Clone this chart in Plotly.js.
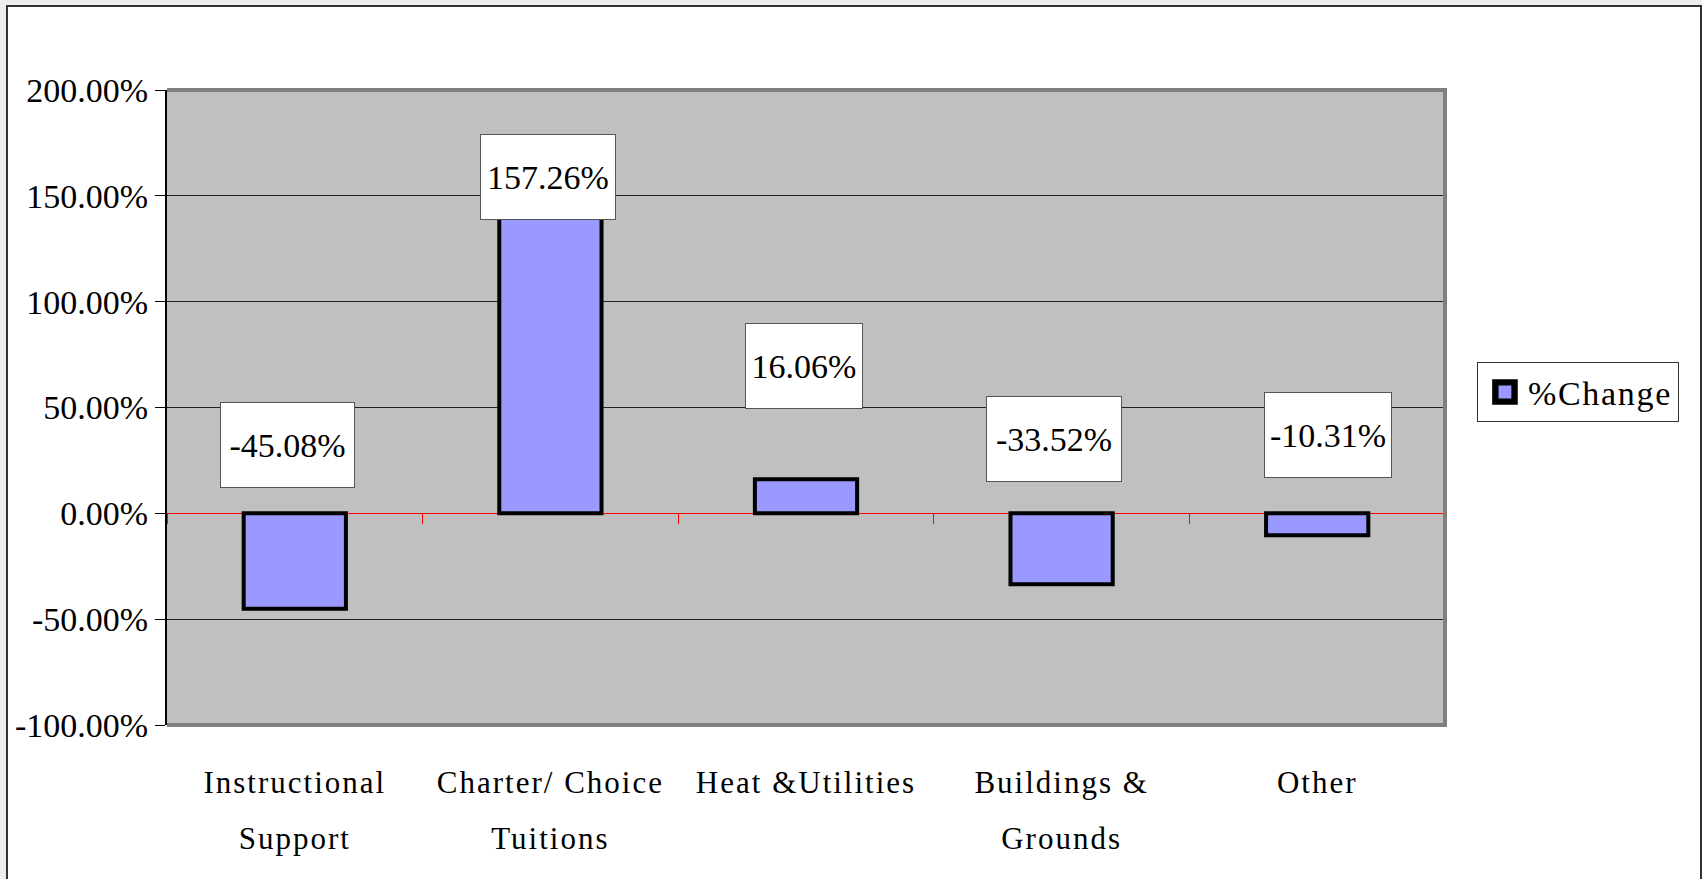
<!DOCTYPE html>
<html>
<head>
<meta charset="utf-8">
<script src="https://cdn.plot.ly/plotly-3.0.1.min.js"></script>
<style>
  body { margin: 0; background: #eeeeee; }
  #frame { position: absolute; left: 6px; top: 5px; width: 1692px; height: 880px;
           background: #ffffff; border: 2px solid #333333; }
  #myDiv { position: absolute; left: 0; top: 0; width: 1702px; height: 879px; }
  .xtick text, .x3tick text { letter-spacing: 2px; }
  .legendtext { letter-spacing: 1.7px; }
  .legendpoints path { transform-box: fill-box; transform-origin: center; scale: 1.6; translate: -13px 0; }
</style>
</head>
<body>
<div id="frame"></div>
<div id="myDiv"></div>
<script>
var graphDiv = document.getElementById('myDiv');

// data
var categories = ['Instructional Support', 'Charter/ Choice Tuitions', 'Heat &Utilities', 'Buildings & Grounds', 'Other'];
var catLine1 = ['Instructional', 'Charter/ Choice', 'Heat &Utilities', 'Buildings &', 'Other'];
var catLine2 = ['Support', 'Tuitions', '', 'Grounds', ''];
var pctChange = [-45.08, 157.26, 16.06, -33.52, -10.31];
var yTicks = [-100, -50, 0, 50, 100, 150, 200];

// where the (hand placed) label boxes sit, in axis units / pixels
var labelY = [32.3, 159.1, 69.8, 34.9, 37.0];
var labelShift = [-7, -2, -2, -8, 11];
var labelW = [131, 132, 114, 132, 124];

var fontFam = '"Liberation Serif", "Times New Roman", serif';
var yMin = -100, yMax = 200;

var annotations = pctChange.map(function (v, i) {
    return {
        x: categories[i], y: labelY[i], xref: 'x', yref: 'y',
        text: v.toFixed(2) + '%', showarrow: false,
        xshift: labelShift[i], width: labelW[i], height: 82,
        bgcolor: '#ffffff', bordercolor: '#555555', borderwidth: 1,
        font: { family: fontFam, size: 34, color: '#000' }
    };
});

var idx = categories.map(function (c, i) { return i; });
var bounds = [-0.5].concat(idx.map(function (i) { return i + 0.5; }));

// invisible helpers so the extra x axes get drawn
var ghost = { type: 'scatter', mode: 'markers', marker: { opacity: 0 },
              showlegend: false, hoverinfo: 'skip' };

Plotly.newPlot(graphDiv, [{
    type: 'bar',
    x: categories,
    y: pctChange,
    name: '%Change',
    width: 0.4,
    marker: { color: '#9999ff', line: { color: '#000000', width: 4 } },
    hoverinfo: 'x+y'
}, Object.assign({}, ghost, {
    x: idx, y: pctChange, xaxis: 'x3', yaxis: 'y'
}), Object.assign({}, ghost, {
    x: bounds, y: bounds.map(function () { return 0; }), xaxis: 'x2', yaxis: 'y'
})], {
    width: 1702,
    height: 879,
    margin: { l: 167, r: 257, t: 90, b: 154 },
    paper_bgcolor: 'rgba(0,0,0,0)',
    plot_bgcolor: '#c0c0c0',
    font: { family: fontFam, size: 34, color: '#000' },
    showlegend: true,
    legend: {
        x: 1.025, y: 0.571, xanchor: 'left', yanchor: 'top',
        itemwidth: 40,
        bgcolor: '#ffffff', bordercolor: '#333333', borderwidth: 1,
        font: { family: fontFam, size: 34, color: '#000' }
    },
    xaxis: {
        type: 'category',
        tickvals: categories,
        ticktext: catLine1,
        ticks: '',
        ticklabelstandoff: 36,
        showgrid: false,
        zeroline: false,
        showline: false,
        tickfont: { family: fontFam, size: 31 }
    },
    xaxis2: {
        overlaying: 'x',
        anchor: 'free',
        position: (0 - yMin) / (yMax - yMin),
        range: [-0.5, categories.length - 0.5],
        tickvals: bounds,
        ticks: 'outside',
        ticklen: 10,
        tickwidth: 1,
        tickcolor: '#ff0000',
        showticklabels: false,
        showgrid: false,
        zeroline: false,
        showline: false,
        fixedrange: true
    },
    xaxis3: {
        overlaying: 'x',
        anchor: 'y',
        side: 'bottom',
        range: [-0.5, categories.length - 0.5],
        tickvals: idx,
        ticktext: catLine2,
        ticks: '',
        ticklabelstandoff: 92,
        showgrid: false,
        zeroline: false,
        showline: false,
        tickfont: { family: fontFam, size: 31 }
    },
    yaxis: {
        range: [yMin, yMax],
        tickvals: yTicks,
        ticktext: yTicks.map(function (t) { return t.toFixed(2) + '%'; }),
        ticks: 'outside',
        ticklen: 10,
        tickcolor: '#000',
        showline: true,
        linecolor: '#000',
        linewidth: 2,
        showgrid: true,
        gridcolor: '#222222',
        gridwidth: 1,
        zeroline: true,
        zerolinecolor: '#ff0000',
        zerolinewidth: 1,
        tickfont: { family: fontFam, size: 34 }
    },
    annotations: annotations,
    shapes: [{
        type: 'path', xref: 'paper', yref: 'paper', layer: 'above',
        path: 'M 0 1 L 1 1 L 1 0 L 0 0',
        line: { color: '#808080', width: 4 }
    }]
}, { displayModeBar: false });
</script>
</body>
</html>
